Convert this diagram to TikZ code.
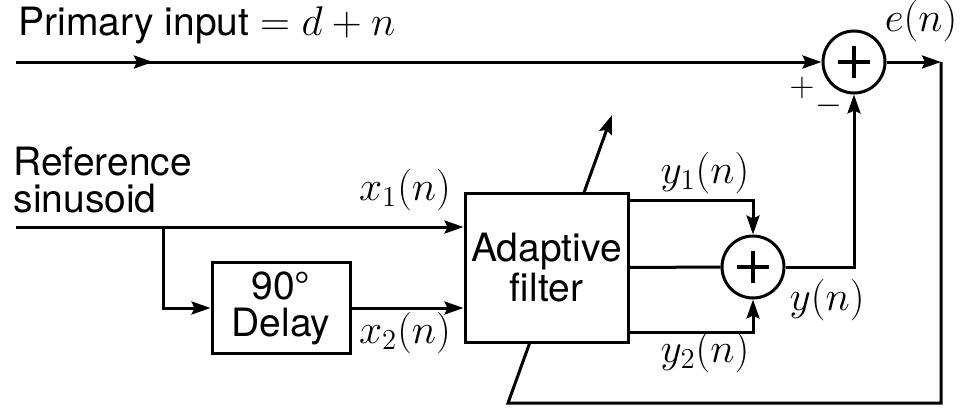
\documentclass[tikz,border=0pt]{standalone}
\usepackage{fontspec}
\setmainfont{TeX Gyre Heros}
\usetikzlibrary{positioning,arrows.meta,decorations.markings}

\begin{document}
\begin{tikzpicture}[x=0.5pt,y=-0.5pt,line width=1.5pt,
  >={Stealth[length=9.5pt,width=6.5pt,inset=1.5pt]},
  every node/.style={font=\fontsize{19.5}{18.5}\selectfont},
  block/.style={draw,fill=white,align=center,inner sep=0pt},
  sumnode/.style={circle,draw,fill=white,minimum size=31pt,inner sep=0pt,
    path picture={\draw[line width=1.8pt]
      ([xshift=-8pt]path picture bounding box.center) -- ([xshift=8pt]path picture bounding box.center)
      ([yshift=-8pt]path picture bounding box.center) -- ([yshift=8pt]path picture bounding box.center);}},
  lbl/.style={anchor=base,inner sep=0pt}]
\useasboundingbox (0,0) rectangle (963,407);

% free ends of the signal paths
\coordinate (pin) at (16,62);
\coordinate (rin) at (16,227);
\coordinate (split) at (163,227);
\coordinate (eout) at (941,62);
\coordinate (fbleft) at (508,403);
\coordinate (adtip) at (612,115);

% summing junctions
\node[sumnode] (sume) at (854,62) {};
\node[sumnode] (sumy) at (753,267) {};

% error feedback, drawn under the filter box
\draw[->] (sume.east) -- (eout);
\draw[->] (eout) |- (fbleft) -- (adtip);

% blocks
\node[block,minimum width=69pt,minimum height=45.5pt] (delay) at (281,308) {90°\\Delay};
\node[block,minimum width=81.5pt,minimum height=74.5pt,font=\fontsize{19.5}{20}\selectfont] (filter) at (546.5,267.5) {Adaptive\\filter};

% primary input, arrow half way
\draw[postaction={decorate},decoration={markings,mark=at position 0.17 with {\arrow{>}}},->] (pin) -- (sume.west);
\node[anchor=base west,inner sep=0pt] (ptitle) at (17,35) {Primary input $= d + n$};

% reference input and 90 degree branch
\node[anchor=base west,align=left,inner sep=0pt] (rtitle) at (12,212) {Reference\\sinusoid};
\draw[->] (rin) -- (filter.west |- rin);
\draw[->] (split) |- (delay.west);
\draw[->] (delay.east) -- (filter.west |- delay.east);
\node[lbl] (x1lbl) at (405,200) {$x_1(n)$};
\node[lbl] (x2lbl) at (405,343) {$x_2(n)$};

% filter outputs into the sum
\draw[->] ([yshift=33.75pt]filter.east) -| (sumy.north);
\draw (filter.east) -- (sumy.west);
\draw[->] ([yshift=-32.25pt]filter.east) -| (sumy.south);
\draw[->] (sumy.east) -| (sume.south);
\node[lbl] (y1lbl) at (705,183) {$y_1(n)$};
\node[lbl] (y2lbl) at (705,362) {$y_2(n)$};
\node[lbl] (ylbl) at (827,310) {$y(n)$};
\node[lbl] (elbl) at (921,32) {$e(n)$};

% signs at the error junction
\node[font=\fontsize{16}{16}\selectfont] (plus) at (802,88) {$+$};
\node[font=\fontsize{16}{16}\selectfont] (minus) at (829,106) {$-$};
\end{tikzpicture}
\end{document}
